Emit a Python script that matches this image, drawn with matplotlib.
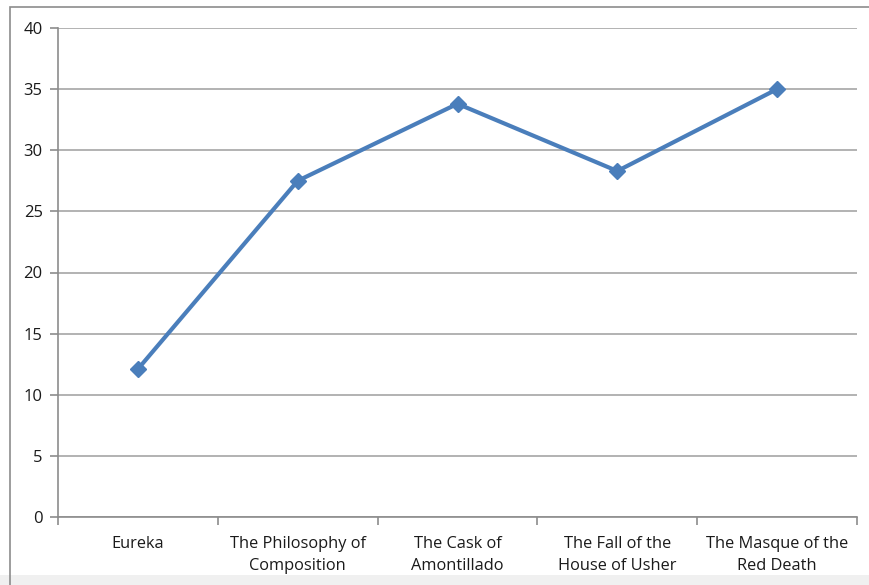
import matplotlib.pyplot as plt
from matplotlib.patches import Rectangle

stories = ["Eureka", "The Philosophy of\nComposition", "The Cask of\nAmontillado",
           "The Fall of the\nHouse of Usher", "The Masque of the\nRed Death"]
scores = [12.1, 27.5, 33.8, 28.3, 35.0]
y_ticks = [0, 5, 10, 15, 20, 25, 30, 35, 40]

plt.rcParams['font.family'] = ['Open Sans', 'DejaVu Sans']

W, H = 869, 585
fig = plt.figure(figsize=(W / 100, H / 100), dpi=100)

# frame around the chart and pale strip along the bottom
fig.patches.append(Rectangle((0, 0), 1, 10 / H, transform=fig.transFigure,
                             facecolor='#f0f0f0', edgecolor='none', zorder=0))
fig.patches.append(Rectangle((10 / W, -0.1), 1.0, 1.1 - 7 / H, transform=fig.transFigure,
                             facecolor='none', edgecolor='#8c8c8c', linewidth=1.2, zorder=1))

ax = fig.add_axes([58 / W, 1 - 517 / H, (857 - 58) / W, (517 - 28) / H])
xs = [i + 0.5 for i in range(len(stories))]
ax.plot(xs, scores, color='#4a7ebb', linewidth=3, marker='D', markersize=8,
        markeredgecolor='#4a7ebb', zorder=5, clip_on=False)

ax.set_xlim(0, len(stories))
ax.set_ylim(0, 40)
ax.set_yticks(y_ticks)
ax.yaxis.grid(True, color='#a6a6a6', linewidth=1.2)
ax.set_axisbelow(True)

ax.set_xticks(range(len(stories) + 1))
ax.set_xticklabels([])
ax.set_xticks(xs, minor=True)
ax.set_xticklabels(stories, minor=True, fontsize=11.8, color='#1a1a1a', linespacing=1.45)
ax.tick_params(axis='x', which='minor', length=0, pad=14)
ax.tick_params(axis='x', which='major', length=6, color='#8c8c8c', width=1.2)
ax.tick_params(axis='y', length=6, color='#8c8c8c', width=1.2, labelsize=12,
               labelcolor='#1a1a1a', pad=5)

for s in ['top', 'right']:
    ax.spines[s].set_visible(False)
for s in ['left', 'bottom']:
    ax.spines[s].set_color('#8c8c8c')
    ax.spines[s].set_linewidth(1.2)

fig.savefig('out.png', dpi=100)
